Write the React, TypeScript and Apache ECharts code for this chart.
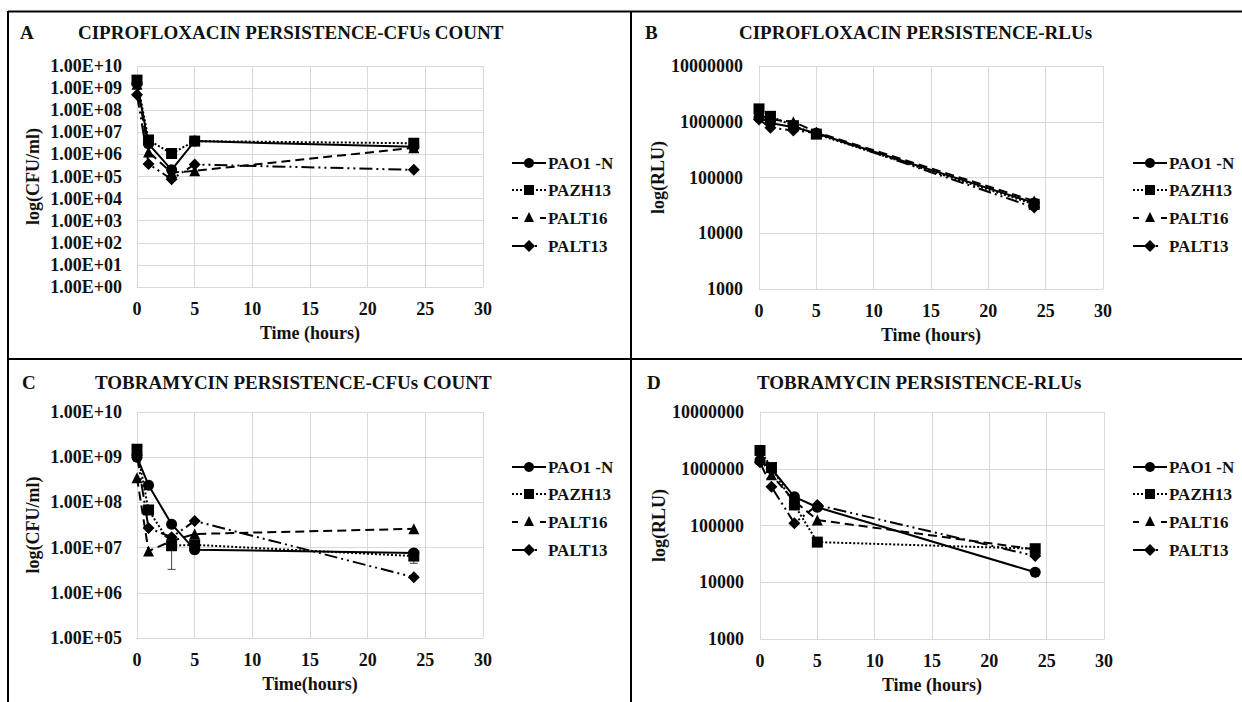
import React, { useEffect, useRef } from "react";
import * as echarts from "echarts";

const times = [0, 1, 3, 5, 24];
const strains = ["PAO1 -N", "PAZH13", "PALT16", "PALT13"];
const xTicks = [0, 5, 10, 15, 20, 25, 30];

// Panel A: Ciprofloxacin persistence - CFU/ml
const cipCfuPAO1 = [1.6e9, 3.0e6, 2.0e5, 4.0e6, 2.2e6];
const cipCfuPAZH13 = [2.3e9, 4.5e6, 1.1e6, 4.0e6, 3.2e6];
const cipCfuPALT16 = [1.5e9, 1.3e6, 1.5e5, 1.8e5, 2.0e6];
const cipCfuPALT13 = [5.0e8, 3.7e5, 7.5e4, 3.5e5, 2.0e5];

// Panel B: Ciprofloxacin persistence - RLU
const cipRluPAO1 = [1.2e6, 9.5e5, 8.0e5, 6.2e5, 3.5e4];
const cipRluPAZH13 = [1.7e6, 1.25e6, 8.5e5, 6.0e5, 3.3e4];
const cipRluPALT16 = [1.35e6, 1.1e6, 1.0e6, 6.5e5, 3.8e4];
const cipRluPALT13 = [1.1e6, 7.8e5, 7.0e5, 6.3e5, 2.9e4];

// Panel C: Tobramycin persistence - CFU/ml
const tobCfuPAO1 = [1.0e9, 2.4e8, 3.3e7, 9.0e6, 7.6e6];
const tobCfuPAZH13 = [1.5e9, 6.8e7, 1.1e7, 1.15e7, 6.5e6];
const tobCfuPALT16 = [3.5e8, 8.4e6, 1.4e7, 2.0e7, 2.6e7];
const tobCfuPALT13 = [1.1e9, 2.7e7, 1.7e7, 3.9e7, 2.2e6];

// Panel D: Tobramycin persistence - RLU
const tobRluPAO1 = [1.4e6, 1.0e6, 3.2e5, 2.1e5, 1.5e4];
const tobRluPAZH13 = [2.1e6, 1.05e6, 2.3e5, 5.1e4, 3.9e4];
const tobRluPALT16 = [1.5e6, 7.8e5, 2.7e5, 1.25e5, 3.8e4];
const tobRluPALT13 = [1.3e6, 4.8e5, 1.1e5, 2.3e5, 2.9e4];

// Error bars [time, low, high]
const errA = [[0, 1.6e9, 3.6e9]];
const errC = [[3, 3.3e6, 1.9e7], [24, 4.5e6, 9.0e6]];

const FONT = "Liberation Serif";

const lineStyles = [
  { type: "solid" as any, symbol: "circle", size: 11 },
  { type: [2, 2] as any, symbol: "rect", size: 11 },
  { type: [9, 5] as any, symbol: "triangle", size: 11 },
  { type: [13, 4, 2, 4, 2, 4] as any, symbol: "diamond", size: 12 },
];

function expFmt(v: number) {
  const e = Math.round(Math.log10(v));
  const s = e < 10 ? "0" + e : String(e);
  return "1.00E+" + s;
}

function legendGraphic(x0: number, ys: number[]) {
  const els: any[] = [];
  const dashes: any[] = [null, [2, 2], [6, 22], [12, 11, 2, 20]];
  ys.forEach((y, i) => {
    const mx = x0 + 17;
    const lineStyle: any = { stroke: "#000", lineWidth: 2 };
    if (dashes[i]) lineStyle.lineDash = dashes[i];
    els.push({ type: "line", shape: { x1: x0, y1: y, x2: x0 + 34, y2: y }, style: lineStyle });
    const fill = { fill: "#000" };
    if (i === 0) els.push({ type: "circle", shape: { cx: mx, cy: y, r: 5 }, style: fill });
    if (i === 1) els.push({ type: "rect", shape: { x: mx - 5, y: y - 5, width: 10, height: 10 }, style: fill });
    if (i === 2)
      els.push({ type: "polygon", shape: { points: [[mx, y - 6], [mx + 5, y + 4], [mx - 5, y + 4]] }, style: fill });
    if (i === 3)
      els.push({ type: "polygon", shape: { points: [[mx, y - 6], [mx + 6, y], [mx, y + 6], [mx - 6, y]] }, style: fill });
    els.push({
      type: "text",
      x: x0 + 36,
      y: y,
      style: {
        text: strains[i],
        font: "bold 17px 'Liberation Serif', 'Times New Roman', serif",
        fill: "#111",
        verticalAlign: "middle",
        align: "left",
      },
    });
  });
  return els;
}

export default function App() {
  const ref = useRef<HTMLDivElement>(null);
  useEffect(() => {
    if (!ref.current) return;
    const chart = echarts.init(ref.current, null, { renderer: "svg" });

    const grids = [
      { left: 137, top: 66, width: 346, height: 221 },
      { left: 759, top: 66, width: 344, height: 223 },
      { left: 137, top: 412, width: 346, height: 226 },
      { left: 760, top: 412, width: 344, height: 227 },
    ];
    const panels = [
      [cipCfuPAO1, cipCfuPAZH13, cipCfuPALT16, cipCfuPALT13],
      [cipRluPAO1, cipRluPAZH13, cipRluPALT16, cipRluPALT13],
      [tobCfuPAO1, tobCfuPAZH13, tobCfuPALT16, tobCfuPALT13],
      [tobRluPAO1, tobRluPAZH13, tobRluPALT16, tobRluPALT13],
    ];
    const yRanges = [
      [1, 1e10],
      [1000, 1e7],
      [1e5, 1e10],
      [1000, 1e7],
    ];
    const yNames = ["log(CFU/ml)", "log(RLU)", "log(CFU/ml)", "log(RLU)"];
    const xNames = ["Time (hours)", "Time (hours)", "Time(hours)", "Time (hours)"];
    const gridColor = "#d9d9d9";
    const boldText = { fontFamily: FONT, fontWeight: "bold" as any, color: "#111", fontSize: 18 };

    const xAxis = grids.map((g, i) => ({
      type: "value",
      gridIndex: i,
      min: 0,
      max: 30,
      interval: 5,
      name: xNames[i],
      nameLocation: "middle",
      nameGap: 37,
      nameTextStyle: { ...boldText },
      axisLine: { show: true, lineStyle: { color: gridColor } },
      axisTick: { show: false },
      axisLabel: { ...boldText, margin: 13, formatter: (v: number) => (xTicks.includes(v) ? String(v) : "") },
      splitLine: { show: true, lineStyle: { color: gridColor, width: 1 } },
    }));

    const yAxis = grids.map((g, i) => ({
      type: "log",
      logBase: 10,
      gridIndex: i,
      min: yRanges[i][0],
      max: yRanges[i][1],
      interval: 1,
      name: yNames[i],
      nameLocation: "middle",
      nameGap: i % 2 === 0 ? 95 : 92,
      nameTextStyle: { ...boldText },
      axisLine: { show: true, lineStyle: { color: gridColor } },
      axisTick: { show: false },
      axisLabel: {
        ...boldText,
        margin: i % 2 === 0 ? 15 : 16,
        formatter: (v: number) => (i % 2 === 0 ? expFmt(v) : String(Math.round(v))),
      },
      splitLine: { show: true, lineStyle: { color: gridColor, width: 1 } },
    }));

    const series: any[] = [];
    panels.forEach((vals, p) => {
      vals.forEach((arr, s) => {
        const st = lineStyles[s];
        series.push({
          type: "line",
          name: strains[s],
          xAxisIndex: p,
          yAxisIndex: p,
          data: times.map((t, k) => [t, arr[k]]),
          symbol: st.symbol,
          symbolSize: st.size,
          showAllSymbol: true,
          lineStyle: { color: "#000", width: 2, type: st.type },
          itemStyle: { color: "#000", borderWidth: 0 },
          z: 3 + s,
        });
      });
    });

    const errRender = (params: any, api: any) => {
      const x = api.value(0);
      const lo = api.coord([x, api.value(1)]);
      const hi = api.coord([x, api.value(2)]);
      const c = 4;
      const st = { stroke: "#444", lineWidth: 1 };
      return {
        type: "group",
        children: [
          { type: "line", shape: { x1: lo[0], y1: lo[1], x2: hi[0], y2: hi[1] }, style: st },
          { type: "line", shape: { x1: lo[0] - c, y1: lo[1], x2: lo[0] + c, y2: lo[1] }, style: st },
          { type: "line", shape: { x1: hi[0] - c, y1: hi[1], x2: hi[0] + c, y2: hi[1] }, style: st },
        ],
      };
    };
    series.push({
      type: "custom",
      name: "errA",
      xAxisIndex: 0,
      yAxisIndex: 0,
      data: errA,
      encode: { x: 0, y: [1, 2] },
      renderItem: errRender,
      z: 2,
    });
    series.push({
      type: "custom",
      name: "errC",
      xAxisIndex: 2,
      yAxisIndex: 2,
      data: errC,
      encode: { x: 0, y: [1, 2] },
      renderItem: errRender,
      z: 2,
    });

    const titleText = { fontFamily: FONT, fontWeight: "bold" as any, fontSize: 19, color: "#111" };
    const title = [
      { text: "A", left: 20, top: 23 },
      { text: "CIPROFLOXACIN PERSISTENCE-CFUs COUNT", left: 78, top: 23 },
      { text: "B", left: 645, top: 23 },
      { text: "CIPROFLOXACIN PERSISTENCE-RLUs", left: 739, top: 23 },
      { text: "C", left: 22, top: 373 },
      { text: "TOBRAMYCIN PERSISTENCE-CFUs COUNT", left: 95, top: 373 },
      { text: "D", left: 647, top: 373 },
      { text: "TOBRAMYCIN PERSISTENCE-RLUs", left: 757, top: 373 },
    ].map((t) => ({ ...t, padding: 0, textStyle: titleText }));

    const border = { stroke: "#000", lineWidth: 2 };
    const graphic = [
      { type: "line", shape: { x1: 8, y1: 11.5, x2: 1242, y2: 11.5 }, style: border },
      { type: "line", shape: { x1: 8, y1: 11, x2: 8, y2: 702 }, style: border },
      { type: "line", shape: { x1: 8, y1: 359, x2: 1242, y2: 359 }, style: border },
      { type: "line", shape: { x1: 631, y1: 11, x2: 631, y2: 702 }, style: border },
      ...legendGraphic(512, [163, 190, 218, 246]),
      ...legendGraphic(1133, [163, 190, 218, 246]),
      ...legendGraphic(512, [467, 494, 522, 550]),
      ...legendGraphic(1133, [467, 494, 522, 550]),
    ];

    chart.setOption({
      animation: false,
      backgroundColor: "#fff",
      textStyle: { fontFamily: FONT },
      title,
      grid: grids,
      xAxis,
      yAxis,
      series,
      graphic,
    } as any);
    return () => chart.dispose();
  }, []);
  return <div ref={ref} style={{ position: "absolute", left: 0, top: 0, width: 1242, height: 702 }} />;
}
